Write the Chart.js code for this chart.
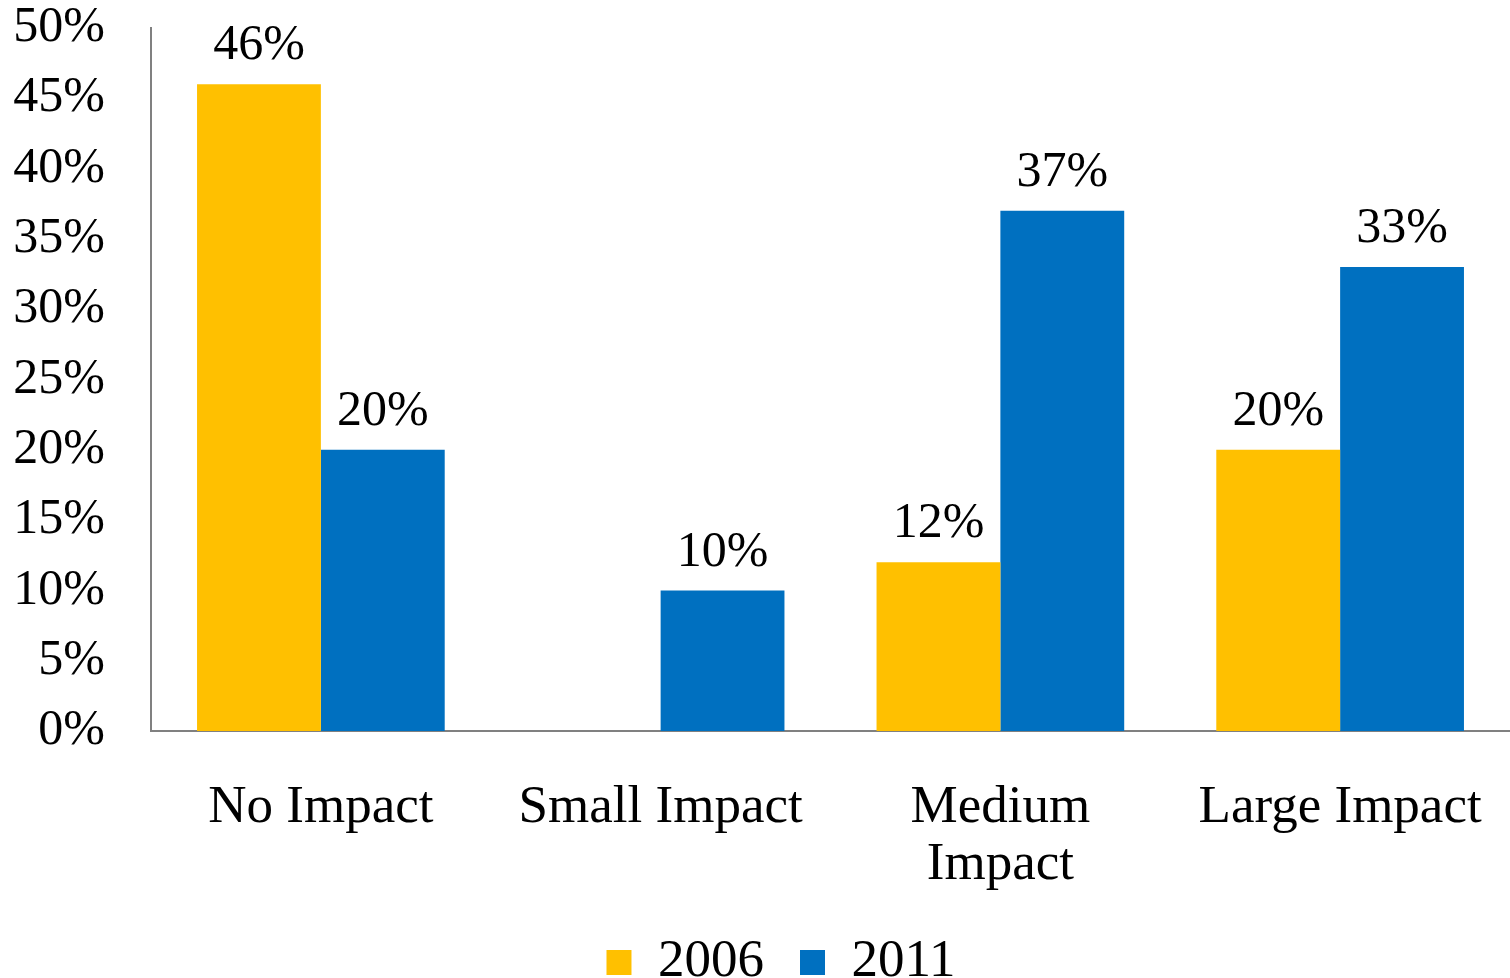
<!DOCTYPE html>
<html>
<head>
<meta charset="utf-8">
<script src="https://cdn.jsdelivr.net/npm/chart.js@4/dist/chart.umd.min.js"></script>
<style>
  html, body { margin: 0; padding: 0; background: #fff; }
  #wrap { width: 1510px; height: 978px; }
</style>
</head>
<body>
<div id="wrap"><canvas id="impactChart"></canvas></div>
<script>
const categories = ['No Impact', 'Small Impact', ['Medium', 'Impact'], 'Large Impact'];
const values2006 = [46, 0, 12, 20];
const values2011 = [20, 10, 37, 33];
const yTicks = [0, 5, 10, 15, 20, 25, 30, 35, 40, 45, 50];

const FONT = "'Liberation Serif', 'DejaVu Serif', serif";

// draws the % labels above each bar, skips empty ones
const barLabels = {
    id: 'barLabels',
    afterLayout(chart) {
        // nudge the legend a bit right, like the original
        chart.legend.left += 20;
        chart.legend.right += 20;
    },
    afterDatasetsDraw(chart) {
        const ctx = chart.ctx;
        ctx.save();
        ctx.font = `50px ${FONT}`;
        ctx.fillStyle = '#000';
        ctx.textAlign = 'center';
        ctx.textBaseline = 'bottom';
        chart.data.datasets.forEach((ds, i) => {
            chart.getDatasetMeta(i).data.forEach((bar, j) => {
                const v = ds.data[j];
                if (!v) return;
                ctx.fillText(v + '%', bar.x, bar.y - 13);
            });
        });
        ctx.restore();
    }
};

new Chart(document.getElementById('impactChart'), {
    type: 'bar',
    data: {
        labels: categories,
        datasets: [
            { label: '2006', data: values2006, backgroundColor: '#FFC000' },
            { label: '2011', data: values2011, backgroundColor: '#0070C0' },
        ]
    },
    options: {
        responsive: true,
        maintainAspectRatio: false,
        animation: false,
        layout: { padding: { top: 28, right: -12, left: 0, bottom: -21 } },
        datasets: { bar: { categoryPercentage: 0.729, barPercentage: 1 } },
        scales: {
            x: {
                afterFit: scale => {
                    scale.height = 169;
                    scale.paddingLeft = 0;
                    scale.paddingRight = 0;
                },
                grid: { display: false, drawTicks: false },
                border: { display: true, color: '#808080', width: 2 },
                ticks: {
                    color: '#000',
                    padding: 48,
                    maxRotation: 0,
                    autoSkip: false,
                    font: { family: FONT, size: 53, lineHeight: 1.08 }
                }
            },
            y: {
                min: 0,
                max: 50,
                afterBuildTicks: scale => { scale.ticks = yTicks.map(v => ({ value: v })); },
                afterFit: scale => {
                    scale.width = 151;
                    scale.paddingTop = 0;
                    scale.paddingBottom = 0;
                },
                grid: { display: false, drawTicks: false },
                border: { display: true, color: '#808080', width: 2 },
                ticks: {
                    color: '#000',
                    padding: 46,
                    font: { family: FONT, size: 50, lineHeight: 1 },
                    callback: v => v + '%'
                }
            }
        },
        plugins: {
            legend: {
                position: 'bottom',
                labels: {
                    color: '#000',
                    boxWidth: 25,
                    boxHeight: 25,
                    padding: 36,
                    font: { family: FONT, size: 53 }
                }
            },
            tooltip: { enabled: false }
        }
    },
    plugins: [barLabels]
});
</script>
</body>
</html>
